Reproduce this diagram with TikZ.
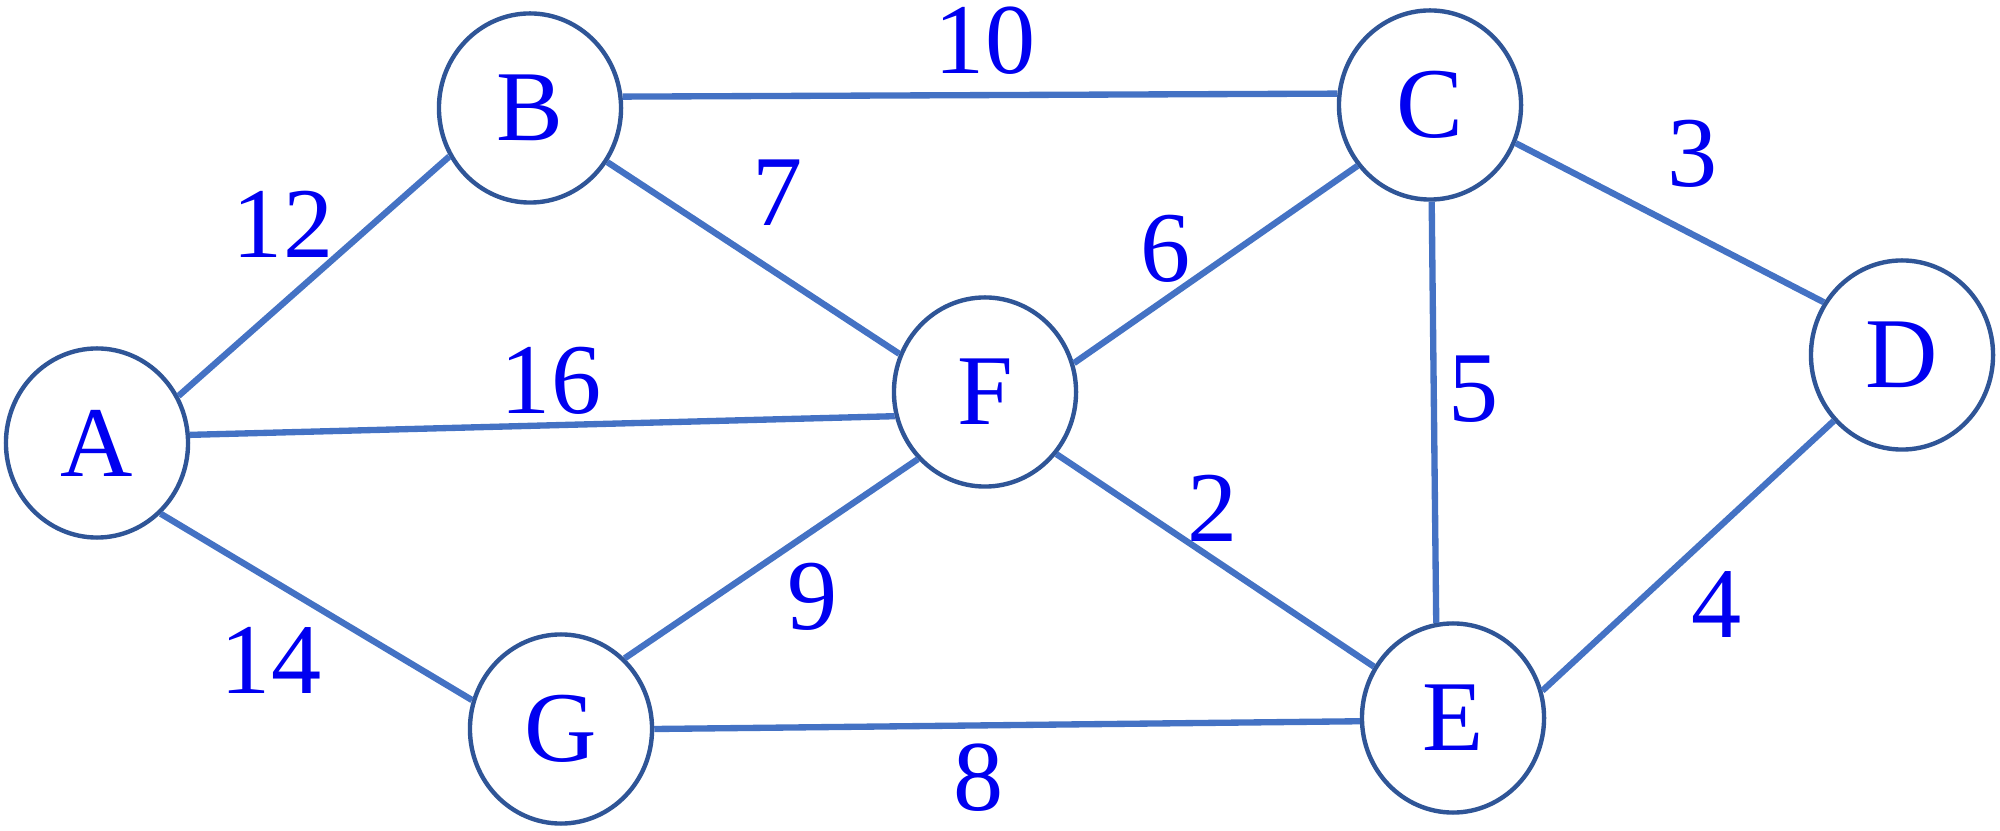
\documentclass[tikz,border=0pt]{standalone}
\usepackage{fontspec}
\setmainfont{Liberation Serif}
\usetikzlibrary{shapes.geometric}
\definecolor{grEdge}{HTML}{4472C4}
\definecolor{grRing}{HTML}{2F5597}
\definecolor{grText}{HTML}{0000F0}
\tikzset{
  vertex/.style={ellipse,draw=grRing,line width=1.25pt,fill=white,
                 minimum width=1.82cm,minimum height=1.89cm,inner sep=0pt,
                 text=grText,font=\fontsize{28.5}{34}\selectfont},
  link/.style={grEdge,line width=1.8pt},
  weight/.style={inner sep=0pt,text=grText,font=\fontsize{28.5}{34}\selectfont}
}
\begin{document}
\begin{tikzpicture}[x=0.01cm,y=-0.01cm]
    \path[fill=white,use as bounding box] (0,0) rectangle (2000,831);

    \node[vertex] (A) at (97,443) {A};
    \node[vertex] (B) at (530,108) {B};
    \node[vertex] (C) at (1430,105) {C};
    \node[vertex] (D) at (1902,355) {D};
    \node[vertex] (E) at (1453,718) {E};
    \node[vertex] (F) at (985,392) {F};
    \node[vertex] (G) at (561,729) {G};

    \draw[link] (A.30) -- (B.211);
    \draw[link] (A.5) -- (F.195);
    \draw[link] (A.312) -- (G.162);
    \draw[link] (B.7) -- (C.173);
    \draw[link] (B.325) -- (F.156);
    \draw[link] (F.18) -- (C.220);
    \draw[link] (C.336) -- (D.146);
    \draw[link] (C.271) -- (E.100);
    \draw[link] (D.224) -- (E.17);
    \draw[link] (F.319) -- (E.147);
    \draw[link] (F.225) -- (G.48);
    \draw[link] (G.0) -- (E.182);

    \node[weight] (wAB) at (283,224) {12};
    \node[weight] (wBC) at (985,41) {10};
    \node[weight] (wBF) at (778,193) {7};
    \node[weight] (wFC) at (1166,249) {6};
    \node[weight] (wCD) at (1693,154) {3};
    \node[weight] (wAF) at (551,381) {16};
    \node[weight] (wCE) at (1474,389) {5};
    \node[weight] (wFE) at (1213,508) {2};
    \node[weight] (wDE) at (1717,605) {4};
    \node[weight] (wAG) at (271,660) {14};
    \node[weight] (wFG) at (813,597) {9};
    \node[weight] (wGE) at (979,778) {8};
\end{tikzpicture}
\end{document}
